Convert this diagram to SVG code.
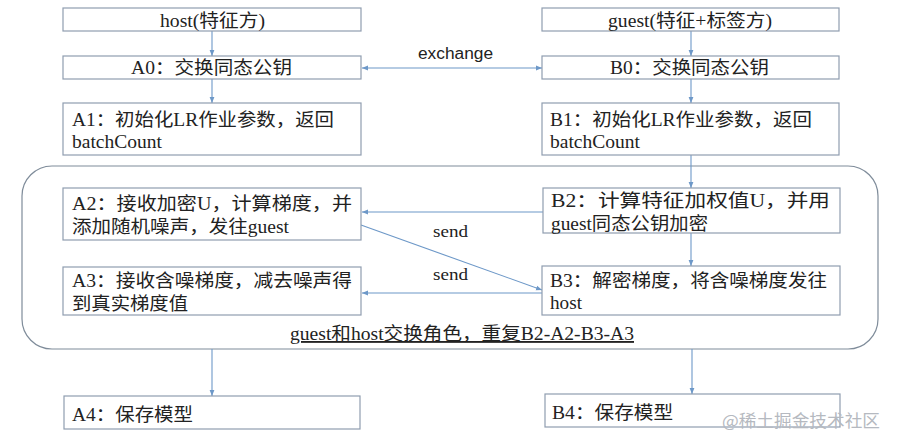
<svg xmlns="http://www.w3.org/2000/svg" width="897" height="446" viewBox="0 0 897 446">
<defs>
<style>
.box{fill:#fff;stroke:#8f9db0;stroke-width:1.2}
.t{font-family:"Liberation Serif","Noto Sans CJK SC",serif;font-size:18.5px;fill:#222}
.s{font-family:"Liberation Sans","Noto Sans",sans-serif;font-size:16px;fill:#222}
.ln{stroke:#6d98c8;stroke-width:1.1;fill:none}
.wm{font-family:"Noto Sans CJK SC",sans-serif;font-size:17px;fill:#b5b9c0}
</style>
<marker id="ah" viewBox="0 0 10 10" refX="10" refY="5" markerWidth="6" markerHeight="6" orient="auto-start-reverse" markerUnits="userSpaceOnUse">
<path d="M0,1 L10,5 L0,9 z" fill="#6d98c8"/>
</marker>
</defs>
<rect width="897" height="446" fill="#fff"/>

<g id="loop">
<rect x="22" y="166" width="856" height="183" rx="30" ry="30" fill="none" stroke="#7f8c9a" stroke-width="1.2"/>
<text class="t" x="290" y="340" textLength="344" lengthAdjust="spacingAndGlyphs" text-decoration="underline">guest和host交换角色，重复B2-A2-B3-A3</text>
</g>

<g id="connectors">
<line class="ln" x1="212" y1="31" x2="212" y2="56" marker-end="url(#ah)"/>
<line class="ln" x1="212" y1="79" x2="212" y2="103" marker-end="url(#ah)"/>
<line class="ln" x1="691" y1="31" x2="691" y2="56" marker-end="url(#ah)"/>
<line class="ln" x1="691" y1="79" x2="691" y2="103" marker-end="url(#ah)"/>
<line class="ln" x1="691" y1="155" x2="691" y2="188" marker-end="url(#ah)"/>
<line class="ln" x1="691" y1="233" x2="691" y2="266" marker-end="url(#ah)"/>
<line class="ln" x1="212" y1="349" x2="212" y2="396" marker-end="url(#ah)"/>
<line class="ln" x1="692" y1="349" x2="692" y2="394" marker-end="url(#ah)"/>
<line class="ln" x1="362" y1="68" x2="542" y2="68" marker-start="url(#ah)" marker-end="url(#ah)"/>
<line class="ln" x1="543" y1="212" x2="362" y2="212" marker-end="url(#ah)"/>
<line class="ln" x1="361" y1="225" x2="542" y2="290" marker-end="url(#ah)"/>
<line class="ln" x1="542" y1="293" x2="362" y2="293" marker-end="url(#ah)"/>
<text class="s" x="418" y="59" textLength="75" lengthAdjust="spacingAndGlyphs">exchange</text>
<text class="t" x="433" y="237" textLength="35" lengthAdjust="spacingAndGlyphs" style="font-size:17px">send</text>
<text class="t" x="433" y="280" textLength="35" lengthAdjust="spacingAndGlyphs" style="font-size:17px">send</text>
</g>

<g id="host">
<rect class="box" x="63" y="8" width="298" height="23"/>
<text class="t" x="160" y="27" textLength="105" lengthAdjust="spacingAndGlyphs">host(特征方)</text>
</g>
<g id="guest">
<rect class="box" x="542" y="8" width="297" height="23"/>
<text class="t" x="608" y="27" textLength="164" lengthAdjust="spacingAndGlyphs">guest(特征+标签方)</text>
</g>
<g id="A0">
<rect class="box" x="63" y="56" width="298" height="23"/>
<text class="t" x="131" y="74" textLength="161" lengthAdjust="spacingAndGlyphs">A0：交换同态公钥</text>
</g>
<g id="B0">
<rect class="box" x="542" y="56" width="297" height="23"/>
<text class="t" x="610" y="74" textLength="159" lengthAdjust="spacingAndGlyphs">B0：交换同态公钥</text>
</g>
<g id="A1">
<rect class="box" x="63" y="103" width="298" height="52"/>
<text class="t" x="72" y="126" textLength="262" lengthAdjust="spacingAndGlyphs">A1：初始化LR作业参数，返回</text>
<text class="t" x="72" y="148" textLength="90" lengthAdjust="spacingAndGlyphs">batchCount</text>
</g>
<g id="B1">
<rect class="box" x="542" y="103" width="297" height="52"/>
<text class="t" x="550" y="126" textLength="262" lengthAdjust="spacingAndGlyphs">B1：初始化LR作业参数，返回</text>
<text class="t" x="550" y="148" textLength="90" lengthAdjust="spacingAndGlyphs">batchCount</text>
</g>
<g id="A2">
<rect class="box" x="63" y="188" width="298" height="52"/>
<text class="t" x="72" y="210" textLength="280" lengthAdjust="spacingAndGlyphs">A2：接收加密U，计算梯度，并</text>
<text class="t" x="72" y="233" textLength="217" lengthAdjust="spacingAndGlyphs">添加随机噪声，发往guest</text>
</g>
<g id="B2">
<rect class="box" x="543" y="188" width="297" height="45"/>
<text class="t" x="551" y="207" textLength="279" lengthAdjust="spacingAndGlyphs">B2：计算特征加权值U，并用</text>
<text class="t" x="551" y="230" textLength="157" lengthAdjust="spacingAndGlyphs">guest同态公钥加密</text>
</g>
<g id="A3">
<rect class="box" x="63" y="267" width="298" height="48"/>
<text class="t" x="72" y="287" textLength="280" lengthAdjust="spacingAndGlyphs">A3：接收含噪梯度，减去噪声得</text>
<text class="t" x="72" y="310" textLength="116" lengthAdjust="spacingAndGlyphs">到真实梯度值</text>
</g>
<g id="B3">
<rect class="box" x="542" y="266" width="298" height="49"/>
<text class="t" x="550" y="287" textLength="277" lengthAdjust="spacingAndGlyphs">B3：解密梯度，将含噪梯度发往</text>
<text class="t" x="550" y="309" textLength="32" lengthAdjust="spacingAndGlyphs">host</text>
</g>
<g id="A4">
<rect class="box" x="64" y="396" width="296" height="33"/>
<text class="t" x="72" y="421" textLength="121" lengthAdjust="spacingAndGlyphs">A4：保存模型</text>
</g>
<g id="B4">
<rect class="box" x="545" y="394" width="295" height="33"/>
<text class="t" x="552" y="419" textLength="121" lengthAdjust="spacingAndGlyphs">B4：保存模型</text>
</g>
<text class="wm" x="722" y="427" textLength="158" lengthAdjust="spacingAndGlyphs">@稀土掘金技术社区</text>
</svg>
